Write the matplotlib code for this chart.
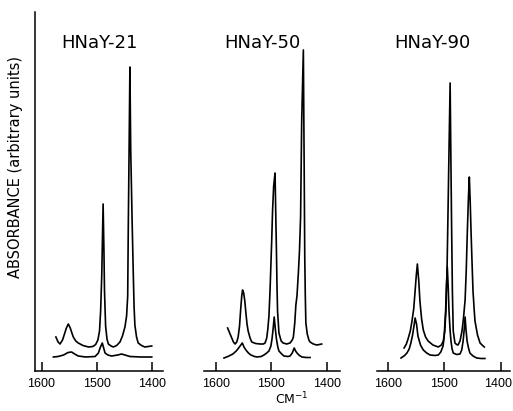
import matplotlib
matplotlib.use("Agg")
from matplotlib import pyplot as plt
from matplotlib.transforms import ScaledTranslation

# wavenumbers (cm-1) and absorbance (arbitrary units)
hnay21_top_wn = [1574, 1570, 1566.5, 1562, 1559, 1555, 1551.5, 1548, 1545, 1542.5, 1538, 1533.5,
                 1525, 1515, 1507, 1502, 1498, 1495, 1493, 1491, 1488.5, 1487, 1486, 1484,
                 1481.5, 1479, 1474, 1470, 1464, 1458, 1453.5, 1449, 1446, 1444, 1443, 1441.5,
                 1440, 1438.5, 1436, 1434, 1432.5, 1431, 1428, 1425, 1419, 1413, 1407, 1400.5]
hnay21_top_a = [34, 29, 27, 31, 36, 43, 47, 43, 38, 34, 30, 28,
                25.5, 24, 24.5, 26.5, 31, 40, 60, 95, 167, 120, 80, 45,
                32, 27, 25, 24, 25.5, 29, 35, 44, 55, 75, 140, 220,
                304, 220, 150, 100, 65, 46, 34, 28, 25.5, 24, 24.5, 25]
hnay21_bot_wn = [1578.5, 1570, 1560, 1552, 1545.5, 1540, 1533.5, 1520, 1503, 1497, 1494, 1490,
                 1487, 1485, 1480, 1473, 1462, 1455, 1449, 1440, 1420, 1400.5]
hnay21_bot_a = [14, 14.5, 16, 18.5, 19, 17, 15, 14, 14.5, 18, 23, 28,
                22, 18, 16, 15, 16, 17, 16, 14.5, 14, 14]

hnay50_top_wn = [1578.5, 1574, 1571, 1568, 1565, 1562, 1559.5, 1557, 1555, 1553, 1551.5, 1549.5,
                 1547.5, 1545.5, 1543.5, 1541.5, 1538, 1535, 1528, 1520, 1514, 1511, 1508, 1506,
                 1504, 1502, 1499, 1497.5, 1495.5, 1493, 1491.5, 1490.5, 1489.5, 1488.5, 1486, 1482,
                 1478.5, 1472, 1466, 1462, 1460, 1457.5, 1455.5, 1453.5, 1451, 1449, 1447, 1445,
                 1442, 1440.5, 1439.5, 1438.5, 1437.5, 1435, 1432, 1430, 1424, 1418, 1413, 1409]
hnay50_top_a = [43, 37, 33, 29, 27, 29, 34, 45, 61, 75, 81, 78,
                70, 58, 47, 40, 33, 29, 27.5, 27, 27, 28, 33, 42,
                55, 81, 131, 160, 185, 198, 150, 120, 85, 60, 38, 30,
                28, 27, 28, 31, 34, 48, 66, 75, 98, 120, 154, 250,
                321, 200, 114, 75, 48, 37, 31, 29, 27, 26, 26.5, 27]
hnay50_bot_wn = [1585, 1578, 1569, 1563, 1560, 1556, 1552, 1549, 1545.5, 1541, 1536.5, 1530,
                 1525.5, 1518, 1513, 1508, 1504, 1500.5, 1498.5, 1496.5, 1494.5, 1492.5, 1490.5, 1488,
                 1486, 1481, 1477, 1470, 1466, 1462, 1458.5, 1456, 1453.5, 1449, 1444.5, 1437, 1430]
hnay50_bot_a = [13, 14.5, 17, 20, 22, 25, 28, 24, 21, 18, 16, 14.5,
                14, 14.5, 16, 18, 20, 25, 32, 42, 54, 42, 32, 24,
                20, 17, 15, 14.5, 15, 18, 23, 20, 18, 15.5, 14, 13.5, 13.5]

hnay90_top_wn = [1571, 1567, 1564, 1560, 1557, 1554, 1551.5, 1549.5, 1547.5, 1545, 1543, 1540,
                 1537, 1533, 1528.5, 1520, 1510.5, 1505, 1501.5, 1499, 1497, 1495, 1493.5, 1491.5,
                 1489.5, 1488.3, 1487, 1485.5, 1484, 1481, 1478, 1475.5, 1472, 1468.5, 1466, 1463,
                 1461, 1459, 1457, 1455.5, 1454, 1452.5, 1450.5, 1449, 1447, 1445.5, 1441, 1436.5,
                 1432, 1429]
hnay90_top_a = [23, 27, 32, 40, 50, 62, 80, 95, 107, 90, 70, 52,
                41, 34, 30, 26, 24, 26, 30, 40, 60, 100, 150, 220,
                288, 220, 150, 80, 40, 28, 26.5, 26, 30, 40, 52, 71,
                100, 140, 175, 194, 170, 140, 105, 80, 62, 50, 36, 28,
                25.5, 24]
hnay90_bot_wn = [1576.5, 1570, 1566, 1562, 1559, 1556, 1553.5, 1551.5, 1549, 1546.5, 1542, 1537,
                 1531, 1525, 1516, 1510.5, 1506, 1502, 1500, 1497.5, 1496, 1494.5, 1493, 1491.5,
                 1489.5, 1488, 1486, 1484, 1478, 1472, 1469, 1466.5, 1464.5, 1463, 1461.5, 1459.5,
                 1457, 1454.5, 1449, 1442.5, 1435, 1428]
hnay90_bot_a = [13, 15.5, 18, 22, 28, 36, 45, 53, 47, 35, 26, 21,
                18, 16, 15.5, 16, 19, 25, 35, 60, 85, 104, 85, 60,
                40, 30, 22, 18, 16.5, 17, 21, 30, 42, 54, 42, 30,
                23, 18, 15, 13, 12.5, 12.5]

titles = ["HNaY-21", "HNaY-50", "HNaY-90"]
xticks = [1600, 1500, 1400]

W, H = 513, 411
fig = plt.figure(figsize=(W / 100, H / 100), dpi=100)

# axes boxes in pixels: (left, width, xlim)
boxes = [(35, 128, (1611.8, 1380.1)),
         (204, 136, (1621, 1376)),
         (376.7, 133.3, (1619.5, 1383.5))]
curves = [(hnay21_top_wn, hnay21_top_a, hnay21_bot_wn, hnay21_bot_a),
          (hnay50_top_wn, hnay50_top_a, hnay50_bot_wn, hnay50_bot_a),
          (hnay90_top_wn, hnay90_top_a, hnay90_bot_wn, hnay90_bot_a)]
title_x = [99, 262, 432]

for i in range(3):
    left, width, xl = boxes[i]
    ax = fig.add_axes([left / W, (H - 371) / H, width / W, 359 / H])
    tw, ta, bw, ba = curves[i]
    ax.plot(tw, ta, color="black", lw=1.2)
    ax.plot(bw, ba, color="black", lw=1.2)
    ax.set_xlim(xl)
    ax.set_ylim(0, 359)
    ax.set_xticks(xticks)
    ax.set_xticklabels([str(t) for t in xticks], family="Liberation Sans", fontsize=9)
    ax.set_yticks([])
    ax.tick_params(axis="x", direction="in", length=6.5, width=1.1, pad=5)
    ax.spines["top"].set_visible(False)
    ax.spines["right"].set_visible(False)
    ax.spines["bottom"].set_linewidth(1.1)
    if i == 0:
        ax.spines["left"].set_linewidth(1.1)
    else:
        ax.spines["left"].set_visible(False)
    ax.patch.set_alpha(0)
    if i == 2:
        # keep the last label inside the figure edge
        lab = ax.get_xticklabels()[-1]
        lab.set_transform(lab.get_transform() + ScaledTranslation(-0.03, 0, fig.dpi_scale_trans))
    fig.text(title_x[i] / W, 1 - 43 / H, titles[i], ha="center", va="center", fontsize=13)

fig.text(16 / W, 1 - 167.5 / H, "ABSORBANCE (arbitrary units)", rotation=90,
         ha="center", va="center", fontsize=10.5)
fig.text(291.7 / W, 1 - 398.5 / H, "CM$^{-1}$", ha="center", va="center", fontsize=9)

fig.savefig("out.png", dpi=100)
